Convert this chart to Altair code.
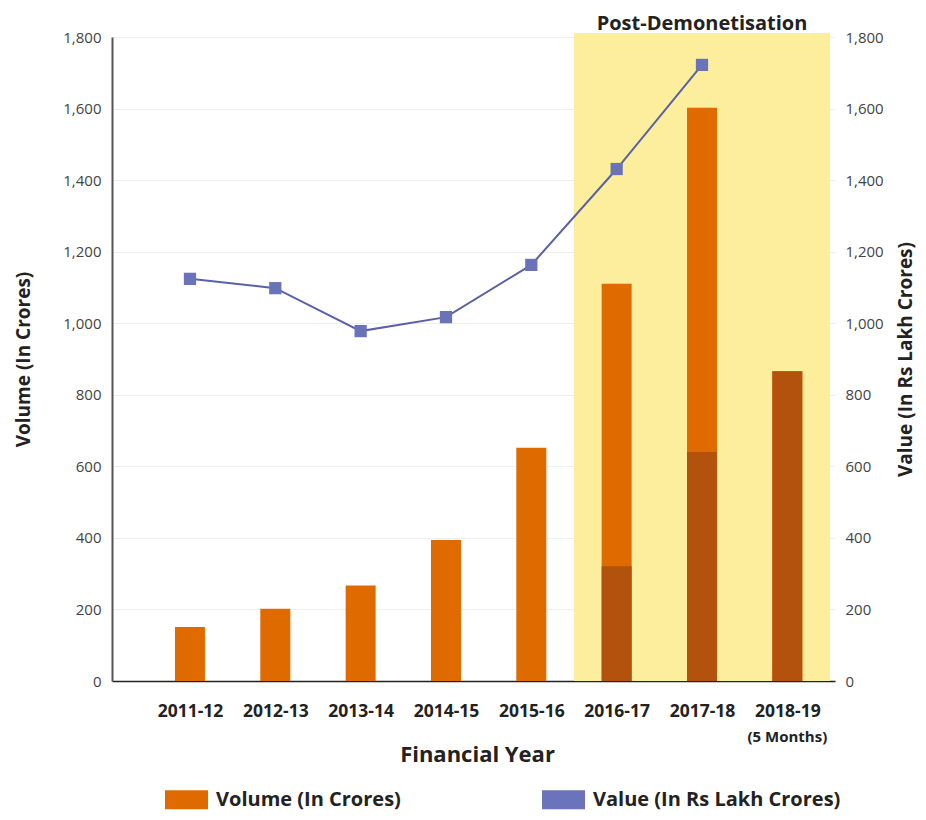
import json
import altair as alt
import pandas as pd

# ---------------- data ----------------
years = ["2011-12", "2012-13", "2013-14", "2014-15", "2015-16", "2016-17", "2017-18", "2018-19"]
volume = [151, 202, 267, 394, 652, 1110, 1602, 866]          # Volume (In Crores)
volume_dark = [0, 0, 0, 0, 0, 321, 640, 866]                  # darker lower segment
value = [1124, 1098, 978, 1017, 1163, 1431, 1722, None]       # Value (In Rs Lakh Crores)
y_ticks = [0, 200, 400, 600, 800, 1000, 1200, 1400, 1600, 1800]
post_start = "2016-17"
post_label = "Post-Demonetisation"
note_year = "2018-19"
note_text = "(5 Months)"
vol_label = "Volume (In Crores)"
val_label = "Value (In Rs Lakh Crores)"

# ---------------- styles ----------------
ORANGE = "#DF6B00"
DARK = "#B2520C"
YELLOW = "#FCEE9C"
LINE = "#5A61A4"
MARK = "#6A72B8"
FONT = "Open Sans"
W, H = 723, 644

df = pd.DataFrame({
    "idx": list(range(len(years))),
    "year": years,
    "volume": volume,
    "dark": volume_dark,
    "value": value,
    "series": [vol_label] * len(years),
})

i0 = years.index(post_start) - 0.5
i1 = len(years) - 0.5
shade = pd.DataFrame({"x": [i0], "x2": [i1], "xm": [(i0 + i1) / 2], "label": [post_label]})
note = pd.DataFrame({"idx": [years.index(note_year)], "text": [note_text]})

label_expr = json.dumps(years) + "[datum.value]"

x_scale = alt.Scale(domain=[-0.855, i1], nice=False, zero=False)
x_axis = alt.Axis(
    values=list(range(len(years))), labelExpr=label_expr, grid=False, ticks=False,
    domainColor="#222222", domainWidth=1.5, labelFont=FONT, labelFontSize=17.5,
    labelFontWeight="bold", labelColor="#222222", labelPadding=21, labelFlush=False,
    labelOverlap=False, title="Financial Year", titleFont=FONT, titleFontSize=22,
    titleFontWeight="bold", titleColor="#222222", titleX=365, titleY=73,
    titleBaseline="middle", titleAlign="center",
)
yl_scale = alt.Scale(domain=[0, 1800], nice=False)
yl_axis = alt.Axis(
    values=y_ticks, format=",d", grid=True, gridColor="#efefef", ticks=False,
    domainColor="#555555", domainWidth=2, labelFont=FONT, labelFontSize=15,
    labelColor="#444444", labelPadding=11, title=vol_label, titleFont=FONT,
    titleFontSize=19, titleFontWeight="bold", titleColor="#222222",
    titleX=-89, titleY=H / 2, titleAngle=270, titleAlign="center", titleBaseline="middle",
)
yr_axis = alt.Axis(
    orient="right", values=y_ticks, format=",d", grid=False, ticks=False, domain=False,
    labelFont=FONT, labelFontSize=15, labelColor="#444444", labelPadding=10,
    title=val_label, titleFont=FONT, titleFontSize=19, titleFontWeight="bold",
    titleColor="#222222", titleX=70, titleY=H / 2, titleAngle=270,
    titleAlign="center", titleBaseline="middle",
)

shade_rect = alt.Chart(shade).mark_rect(color=YELLOW).encode(
    x=alt.X("x:Q", scale=x_scale, axis=x_axis),
    x2="x2:Q",
    y=alt.value(-4),
    y2=alt.value(H),
)
shade_text = alt.Chart(shade).mark_text(
    font=FONT, fontSize=20, fontWeight="bold", color="#222222", baseline="middle"
).encode(x=alt.X("xm:Q", scale=x_scale), y=alt.value(-13), text="label:N")

bars = alt.Chart(df).mark_bar(size=30).encode(
    x=alt.X("idx:Q", scale=x_scale, axis=x_axis),
    y=alt.Y("volume:Q", scale=yl_scale, axis=yl_axis),
    color=alt.Color(
        "series:N",
        scale=alt.Scale(domain=[vol_label, val_label], range=[ORANGE, "#6B73BA"]),
        legend=alt.Legend(
            title=None, orient="none", legendX=53, legendY=741, direction="horizontal",
            symbolType="M-1,-0.44H1V0.44H-1Z", symbolSize=1849, symbolStrokeWidth=0,
            symbolOpacity=1, labelFont=FONT, labelFontSize=20, labelFontWeight="bold",
            labelColor="#222222", columnPadding=141, labelOffset=8, labelLimit=400,
        ),
    ),
)
dark_bars = alt.Chart(df).transform_filter("datum.dark > 0").mark_bar(size=30, color=DARK).encode(
    x=alt.X("idx:Q", scale=x_scale),
    y=alt.Y("dark:Q", scale=yl_scale, axis=yl_axis),
)
note_text_mark = alt.Chart(note).mark_text(
    font=FONT, fontSize=15, fontWeight="bold", color="#222222", baseline="middle"
).encode(x=alt.X("idx:Q", scale=x_scale), y=alt.value(H + 56), text="text:N")

left = alt.layer(shade_rect, shade_text, bars, dark_bars, note_text_mark)

line_base = alt.Chart(df).transform_filter("isValid(datum.value)").encode(
    x=alt.X("idx:Q", scale=x_scale),
    y=alt.Y("value:Q", scale=yl_scale, axis=yr_axis),
)
line = line_base.mark_line(color=LINE, strokeWidth=2)
pts = line_base.mark_point(shape="square", filled=True, size=150, color=MARK, opacity=1)
right = alt.layer(line, pts)

chart = alt.layer(left, right).resolve_scale(y="independent").properties(
    width=W, height=H,
    autosize=alt.AutoSizeParams(type="none"),
    padding={"left": 104, "top": 29, "right": 83, "bottom": 131},
    background="white",
).configure_view(stroke=None)

chart.save("out.html", embed_options={"renderer": "svg", "actions": False})
